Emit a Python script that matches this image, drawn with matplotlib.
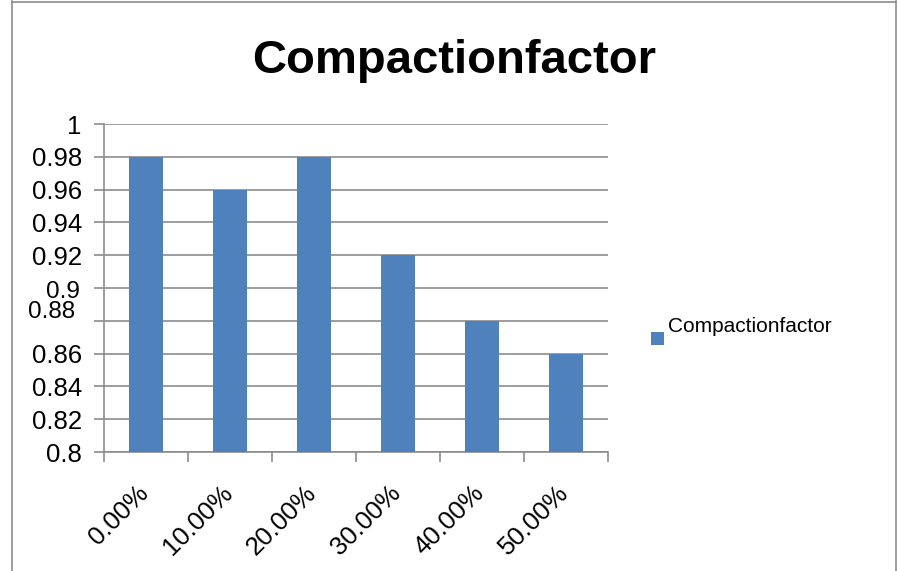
import matplotlib
matplotlib.use("Agg")
import matplotlib.pyplot as plt
import matplotlib.transforms as mtransforms
from matplotlib.patches import Rectangle
from matplotlib.lines import Line2D

plt.rcParams['font.family'] = ['Liberation Sans', 'DejaVu Sans']

categories = ["0.00%", "10.00%", "20.00%", "30.00%", "40.00%", "50.00%"]
values = [0.98, 0.96, 0.98, 0.92, 0.88, 0.86]
series_name = "Compactionfactor"
y_ticks = [0.8, 0.82, 0.84, 0.86, 0.88, 0.9, 0.92, 0.94, 0.96, 0.98, 1.0]
y_tick_labels = ["0.8", "0.82", "0.84", "0.86", "0.88", "0.9", "0.92", "0.94", "0.96", "0.98", "1"]

W, H = 898, 571
fig = plt.figure(figsize=(W / 100, H / 100), dpi=100)
fig.patch.set_facecolor("white")

# outer chart frame
fig.add_artist(Line2D([12 / W, 12 / W], [0, 1 - 1 / H], transform=fig.transFigure, color="#8c8c8c", lw=1.2))
fig.add_artist(Line2D([12 / W, 896 / W], [1 - 1.5 / H, 1 - 1.5 / H], transform=fig.transFigure, color="#8c8c8c", lw=1.2))
fig.add_artist(Line2D([896 / W, 896 / W], [0, 1 - 1 / H], transform=fig.transFigure, color="#8c8c8c", lw=1.2))

ax = fig.add_axes([104 / W, 1 - 452 / H, (608 - 104) / W, (452 - 124) / H])
x = list(range(len(categories)))
ax.bar(x, values, width=0.4, color="#4F81BD", zorder=3, label=series_name)

ax.set_xlim(-0.5, len(categories) - 0.5)
ax.set_ylim(0.8, 1.0)
ax.set_yticks(y_ticks)
ax.set_yticklabels(y_tick_labels, fontsize=18.5)
ax.set_xticks([i - 0.5 for i in range(len(categories) + 1)], minor=False)
ax.set_xticklabels([])
ax.set_xticks(x, minor=True)
ax.set_xticklabels(categories, minor=True, fontsize=18.5, rotation=45,
                   ha="right", va="top", rotation_mode="anchor")
ax.tick_params(axis="x", which="minor", length=0, pad=21)
ax.tick_params(axis="x", which="major", length=7, color="#8c8c8c", width=1.2)
ax.tick_params(axis="y", length=7, color="#8c8c8c", width=1.2, pad=9)

# shift the category labels slightly left
for lbl in ax.get_xticklabels(minor=True):
    lbl.set_transform(lbl.get_transform() + mtransforms.ScaledTranslation(-10 / 100, 0, fig.dpi_scale_trans))

# nudge the crowded value labels apart
offsets = {"0.88": (-7, 11, 17.5), "0.9": (-2, -2, 17.5)}
for lbl, txt in zip(ax.get_yticklabels(), y_tick_labels):
    if txt in offsets:
        dx, dy, fs = offsets[txt]
        lbl.set_fontsize(fs)
        lbl.set_transform(lbl.get_transform() + mtransforms.ScaledTranslation(dx / 100, dy / 100, fig.dpi_scale_trans))

ax.grid(axis="y", color="#8c8c8c", lw=1.2, zorder=0)
for s in ["top", "right"]:
    ax.spines[s].set_visible(False)
for s in ["left", "bottom"]:
    ax.spines[s].set_color("#8c8c8c")
    ax.spines[s].set_linewidth(1.2)
ax.set_axisbelow(True)

fig.text(454 / W, 1 - 61 / H, "Compactionfactor", fontsize=34, fontweight="bold",
         ha="center", va="center")

# legend entry
fig.add_artist(Rectangle((651 / W, 1 - 345 / H), 13 / W, 13 / H, transform=fig.transFigure,
                         facecolor="#4F81BD", edgecolor="none"))
fig.text(668 / W, 1 - 326 / H, series_name, fontsize=15, ha="left", va="center")

fig.savefig("out.png", dpi=100)
